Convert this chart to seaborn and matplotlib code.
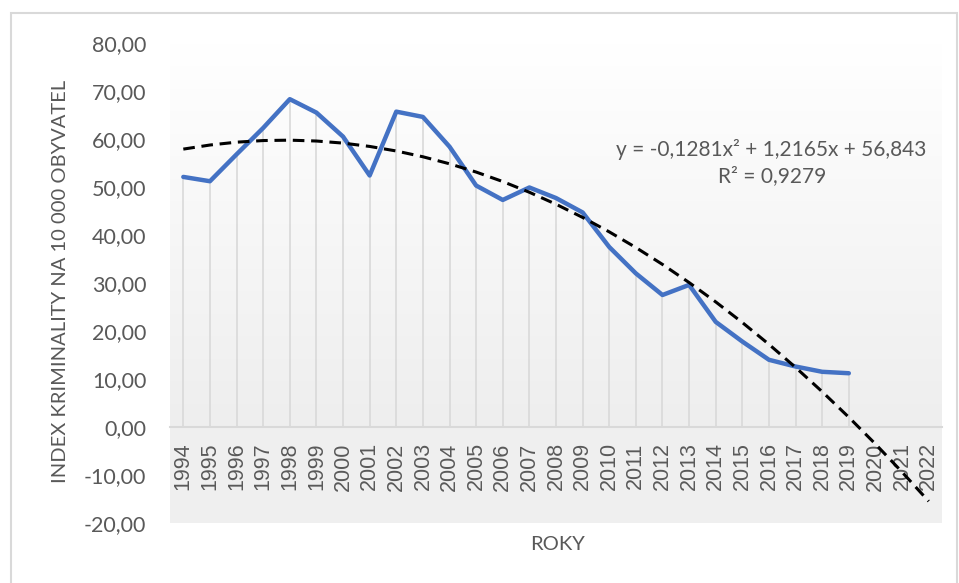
import numpy as np
import pandas as pd
import matplotlib
matplotlib.use("Agg")
import matplotlib.pyplot as plt
import seaborn as sns
from matplotlib.patches import Rectangle
from matplotlib.ticker import FuncFormatter
from matplotlib.colors import LinearSegmentedColormap

# ---- data ----
years_all = list(range(1994, 2023))
years_data = list(range(1994, 2020))
index_values = [52.1, 51.2, 56.8, 62.3, 68.3, 65.5, 60.5, 52.4, 65.7, 64.6,
                58.4, 50.3, 47.3, 49.9, 47.7, 44.7, 37.5, 32.0, 27.5, 29.6,
                21.9, 17.8, 14.0, 12.6, 11.5, 11.2]
equation_text = "y = -0,1281x\u00b2 + 1,2165x + 56,843"
r2_text = "R\u00b2 = 0,9279"
y_label = "INDEX KRIMINALITY NA 10 000 OBYVATEL"
x_label = "ROKY"

df = pd.DataFrame({"rok": years_data, "index": index_values})

# polynomial trendline (order 2) as Excel computes it, x = 1..n
xn = np.arange(1, len(years_data) + 1)
coef = np.polyfit(xn, index_values, 2)
xn_all = np.arange(1, len(years_all) + 1)
trend = np.polyval(coef, xn_all)
df_trend = pd.DataFrame({"rok": years_all, "trend": trend})

sns.set_theme(style="white")
plt.rcParams["font.family"] = ["Lato", "DejaVu Sans"]

fig = plt.figure(figsize=(9.59, 5.83), dpi=100)
fig.patch.set_facecolor("white")
ax = fig.add_axes([170 / 959, 1 - 523 / 583, (942 - 170) / 959, (523 - 43) / 583])

# chart border
fig.patches.append(Rectangle((11 / 959, -0.1), (957 - 11) / 959, 1.1 - 13 / 583,
                             transform=fig.transFigure, fill=False,
                             edgecolor="#d9d9d9", lw=1.5, zorder=0))

x0, x1 = 1993.5, 2022.5

# background: gradient above 0 (white at top), flat gray below
cmap = LinearSegmentedColormap.from_list("bg", ["#ffffff", "#eeeeee"])
grad = np.linspace(0, 1, 256).reshape(-1, 1)
ax.imshow(grad, extent=[x0, x1, 0, 80], aspect="auto", cmap=cmap, zorder=0,
          origin="upper")
ax.axhspan(-20, 0, color="#efefef", zorder=0, lw=0)
ax.set_xlim(x0, x1)
ax.set_ylim(-20, 80)

# drop lines
ax.vlines(df["rok"], 0, df["index"], color="#d9d9d9", lw=1.2, zorder=1)

sns.lineplot(data=df, x="rok", y="index", ax=ax, color="#4472C4", lw=3.2,
             zorder=3)
sns.lineplot(data=df_trend, x="rok", y="trend", ax=ax, color="black", lw=2.2,
             zorder=4)
ax.lines[-1].set_dashes([3.8, 2.2])

for s in ["top", "right", "left"]:
    ax.spines[s].set_visible(False)
ax.spines["bottom"].set_position(("data", 0))
ax.spines["bottom"].set_color("#d9d9d9")
ax.spines["bottom"].set_linewidth(1.5)

ax.set_xticks(years_all)
ax.set_xticklabels([str(y) for y in years_all], rotation=90,
                   fontfamily="Liberation Sans", fontsize=15.5, color="#595959")
ax.tick_params(axis="x", length=0, pad=11)
ax.set_yticks(np.arange(-20, 81, 10))
ax.yaxis.set_major_formatter(FuncFormatter(lambda v, p: f"{v:.2f}".replace(".", ",")))
ax.tick_params(axis="y", length=0, pad=17, labelsize=15.5, labelcolor="#595959")
ax.grid(False)

ax.set_xlabel("")
ax.set_ylabel("")
fig.text(60 / 959, 1 - 281 / 583, y_label, rotation=90, ha="center", va="center",
         fontsize=14.5, color="#595959")
fig.text(558 / 959, 1 - 545 / 583, x_label, ha="center", va="center",
         fontsize=14.5, color="#595959")
fig.text(771 / 959, 1 - 149 / 583, equation_text, ha="center", va="center",
         fontsize=15, color="#595959")
fig.text(772 / 959, 1 - 176 / 583, r2_text, ha="center", va="center",
         fontsize=15, color="#595959")

fig.savefig("out.png", dpi=100)
